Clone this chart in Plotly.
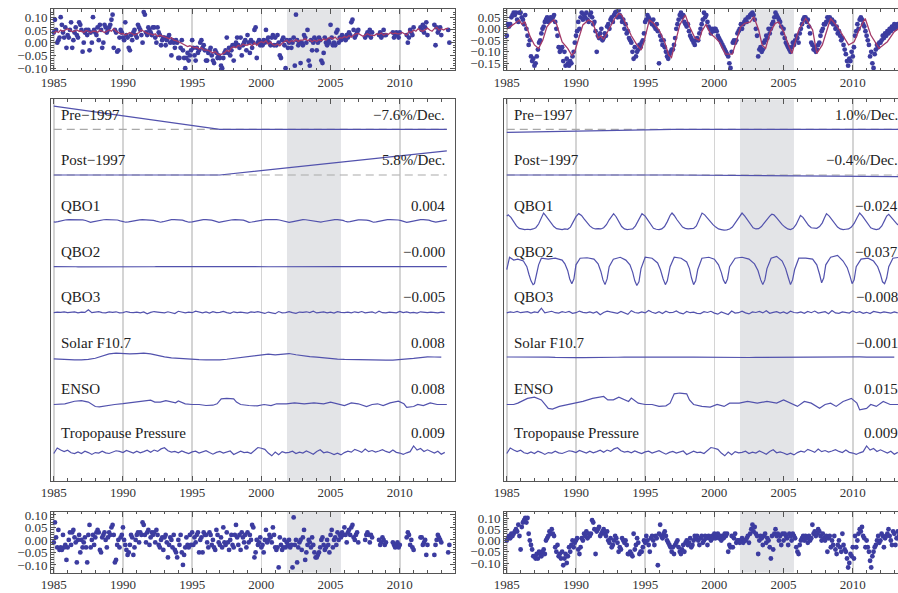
import plotly.graph_objects as go

W, H = 898, 593
FONT = "Liberation Serif, Times New Roman, serif"
YEARS = list(range(1985, 2014))

# ---------------- top-left: ozone anomaly (monthly rows per year) ----------------
TL_ROWS = [
    [0.04, 0.09, 0.05, 0.00, 0.01, 0.02, 0.10, 0.07, 0.04, 0.02, 0.06, -0.02],
    [0.03, 0.02, 0.05, 0.08, -0.02, 0.01, 0.04, 0.06, 0.03, 0.02, 0.08, 0.07],
    [0.05, -0.035, 0.00, 0.04, 0.05, 0.03, 0.05, -0.03, 0.04, 0.00, 0.10, 0.05],
    [0.04, 0.03, 0.06, 0.01, 0.07, 0.05, -0.02, 0.00, 0.07, 0.06, 0.04, 0.05],
    [0.06, 0.07, 0.09, 0.11, -0.02, 0.05, 0.04, -0.035, -0.03, 0.02, 0.05, 0.04],
    [0.02, 0.01, 0.08, 0.03, 0.02, -0.02, -0.03, 0.03, 0.01, 0.04, 0.05, 0.03],
    [0.02, 0.07, 0.06, 0.05, 0.03, 0.00, 0.12, 0.11, 0.04, 0.03, 0.06, 0.05],
    [0.04, 0.03, 0.06, 0.06, 0.02, 0.00, 0.06, 0.04, 0.03, -0.01, 0.01, 0.02],
    [0.02, -0.01, 0.01, 0.02, 0.03, 0.00, -0.05, 0.01, 0.00, -0.02, 0.01, 0.00],
    [-0.06, -0.06, -0.02, 0.01, -0.03, -0.06, -0.10, -0.06, -0.04, -0.07, -0.05, -0.03],
    [0.01, -0.02, -0.05, -0.07, -0.02, -0.04, -0.03, 0.00, 0.01, -0.02, -0.01, -0.03],
    [-0.07, -0.07, -0.04, -0.03, -0.02, -0.05, -0.07, -0.08, -0.03, -0.04, -0.06, -0.05],
    [-0.06, -0.09, -0.10, -0.06, -0.04, -0.03, 0.02, -0.04, -0.02, -0.05, -0.03, -0.01],
    [-0.07, -0.01, 0.00, 0.02, -0.01, -0.02, 0.02, -0.05, -0.01, 0.00, 0.01, -0.03],
    [0.03, 0.00, -0.04, 0.01, -0.02, 0.00, 0.05, 0.06, -0.06, 0.00, 0.01, -0.01],
    [0.00, -0.01, 0.01, 0.00, 0.05, 0.01, 0.02, 0.00, -0.01, 0.02, 0.03, -0.01],
    [0.02, -0.01, 0.03, 0.00, -0.05, -0.06, 0.01, 0.02, -0.01, -0.10, 0.01, -0.02],
    [0.00, 0.01, -0.02, 0.00, 0.02, -0.09, 0.11, 0.01, -0.01, 0.00, -0.08, 0.00],
    [-0.01, 0.03, 0.02, 0.00, 0.05, -0.07, -0.09, 0.01, -0.03, 0.00, 0.02, 0.01],
    [-0.03, 0.00, 0.02, 0.01, -0.07, -0.08, -0.04, 0.02, 0.00, -0.01, 0.01, 0.00],
    [0.07, 0.02, -0.01, 0.00, -0.01, 0.04, 0.05, 0.00, 0.02, 0.01, 0.03, 0.02],
    [0.02, 0.01, 0.03, 0.02, 0.04, 0.03, 0.08, 0.09, 0.05, 0.02, 0.03, 0.04],
    [0.05, None, None, None, None, None, 0.02, 0.03, 0.04, 0.03, 0.05, 0.02],
    [0.04, None, None, None, None, None, 0.03, 0.04, 0.02, 0.03, 0.05, 0.03],
    [0.03, None, None, None, None, None, 0.04, 0.02, 0.03, 0.04, 0.03, 0.02],
    [0.04, None, None, None, None, None, 0.03, 0.00, 0.02, 0.05, 0.04, 0.03],
    [0.06, None, None, None, None, None, 0.06, 0.05, 0.07, 0.04, 0.06, 0.08],
    [0.03, None, None, None, None, None, 0.07, -0.01, 0.06, 0.04, 0.05, 0.06],
    [0.03, None, None, None, None, None, 0.05, 0.00],
]

# fitted model, left (two-monthly rows per year)
FIT_L_ROWS = [
    [0.036, 0.045, 0.040, 0.050, 0.045, 0.050],
    [0.055, 0.050, 0.043, 0.045, 0.050, 0.045],
    [0.045, 0.040, 0.048, 0.045, 0.040, 0.045],
    [0.045, 0.040, 0.050, 0.045, 0.040, 0.045],
    [0.050, 0.045, 0.055, 0.045, 0.040, 0.035],
    [0.036, 0.030, 0.035, 0.040, 0.035, 0.030],
    [0.035, 0.040, 0.050, 0.045, 0.040, 0.035],
    [0.035, 0.030, 0.035, 0.025, 0.030, 0.025],
    [0.023, 0.020, 0.015, 0.020, 0.010, 0.008],
    [0.005, 0.000, -0.005, -0.010, -0.015, -0.012],
    [-0.016, -0.020, -0.018, -0.025, -0.020, -0.028],
    [-0.029, -0.030, -0.035, -0.040, -0.035, -0.045],
    [-0.048, -0.045, -0.040, -0.030, -0.035, -0.020],
    [-0.016, -0.020, -0.010, -0.015, -0.005, -0.010],
    [-0.009, -0.005, -0.012, 0.000, -0.010, 0.000],
    [0.004, 0.000, 0.008, -0.005, 0.002, -0.008],
    [-0.010, -0.005, -0.012, -0.002, 0.005, 0.010],
    [0.000, 0.008, 0.005, 0.012, 0.005, 0.010],
    [0.010, 0.015, 0.008, 0.012, 0.004, 0.010],
    [0.005, 0.012, 0.008, 0.015, 0.010, 0.018],
    [0.020, 0.015, 0.022, 0.012, 0.020, 0.018],
    [0.024, 0.020, 0.028, 0.022, 0.030, 0.035],
    [0.036, 0.030, 0.025, 0.030, 0.035, 0.030],
    [0.030, 0.028, 0.035, 0.032, 0.038, 0.030],
    [0.036, 0.032, 0.040, 0.035, 0.038, 0.035],
    [0.036, 0.040, 0.035, 0.030, 0.045, 0.040],
    [0.050, 0.045, 0.055, 0.048, 0.045, 0.050],
    [0.057, 0.050, 0.045, 0.055, 0.060, 0.050],
    [0.055, 0.050, 0.055, 0.056],
]

# ---------------- bottom-left: residuals ----------------
BL_ROWS = [
    [-0.01, 0.07, 0.01, -0.03, 0.04, -0.04, -0.03, -0.04, 0.02, -0.03, -0.02, -0.08],
    [-0.03, 0.00, 0.03, -0.02, 0.03, 0.04, 0.01, -0.01, -0.09, 0.00, 0.02, -0.05],
    [0.00, -0.03, -0.01, 0.01, -0.03, -0.09, 0.02, 0.06, -0.03, 0.00, 0.02, -0.02],
    [0.01, 0.03, 0.04, 0.03, -0.04, -0.05, 0.01, 0.02, 0.03, 0.00, -0.03, 0.01],
    [0.03, 0.02, 0.05, 0.06, 0.02, -0.09, -0.08, -0.02, 0.00, -0.03, 0.01, 0.02],
    [0.05, 0.00, -0.02, -0.04, -0.06, -0.05, -0.02, 0.02, 0.01, -0.06, -0.03, 0.00],
    [0.02, 0.03, -0.01, 0.03, 0.02, 0.07, 0.06, 0.02, -0.01, 0.03, 0.04, -0.02],
    [0.01, 0.03, 0.02, 0.03, -0.01, 0.04, 0.02, -0.02, -0.03, 0.00, 0.01, -0.04],
    [0.01, 0.02, -0.01, -0.07, -0.02, 0.01, 0.00, -0.03, 0.02, -0.04, -0.05, -0.07],
    [0.00, -0.02, 0.02, -0.05, -0.10, -0.06, -0.03, 0.01, -0.02, -0.03, 0.02, -0.02],
    [0.03, -0.02, 0.01, -0.01, 0.02, 0.03, -0.05, 0.00, 0.01, -0.05, 0.03, 0.02],
    [0.02, -0.01, -0.03, 0.03, 0.02, -0.02, 0.00, -0.03, -0.04, 0.04, 0.02, -0.01],
    [-0.02, 0.01, -0.03, 0.05, -0.01, -0.02, 0.03, -0.01, -0.04, 0.00, 0.02, -0.02],
    [-0.03, 0.02, 0.06, 0.01, -0.02, 0.02, -0.04, 0.03, 0.01, -0.01, 0.02, -0.03],
    [0.03, -0.01, 0.02, 0.00, 0.06, 0.05, -0.07, -0.05, 0.00, -0.02, -0.01, 0.01],
    [-0.03, -0.02, -0.05, 0.00, 0.04, -0.01, 0.00, 0.02, 0.01, -0.01, 0.05, 0.02],
    [-0.03, -0.04, -0.03, -0.11, 0.01, -0.02, -0.04, -0.03, 0.00, -0.03, -0.01, -0.02],
    [0.00, -0.03, -0.02, -0.11, 0.09, -0.02, 0.00, -0.09, -0.03, -0.01, 0.00, -0.04],
    [0.01, 0.04, -0.08, -0.05, -0.02, 0.00, -0.01, -0.03, 0.01, -0.02, -0.05, -0.07],
    [-0.07, -0.06, -0.05, -0.03, 0.00, 0.01, -0.02, -0.04, -0.03, 0.00, -0.02, -0.05],
    [0.02, 0.04, -0.03, 0.00, 0.01, -0.02, 0.03, 0.00, 0.02, 0.01, 0.03, 0.02],
    [0.05, 0.02, -0.01, 0.03, 0.04, 0.02, 0.05, 0.06, 0.01, 0.00, 0.02, 0.03],
    [-0.01, None, None, None, None, None, 0.00, 0.02, 0.03, 0.02, -0.01, 0.02],
    [0.01, None, None, None, None, None, 0.00, -0.02, -0.01, 0.01, 0.00, -0.02],
    [-0.01, None, None, None, None, None, -0.01, -0.02, -0.03, -0.02, -0.01, -0.03],
    [-0.02, None, None, None, None, None, 0.01, 0.03, 0.02, -0.02, 0.00, -0.03],
    [-0.04, None, None, None, None, None, 0.01, 0.01, -0.02, -0.01, 0.00, -0.06],
    [-0.02, None, None, None, None, None, -0.06, -0.02, 0.00, 0.02, 0.01, 0.00],
    [-0.01, None, None, None, None, None, -0.05, -0.02],
]

# ---------------- top-right: ozone anomaly ----------------
TR_ROWS = [
    [-0.03, 0.02, 0.01, 0.02, 0.05, 0.06, 0.07, 0.06, 0.07, 0.04, 0.03, 0.07],
    [0.07, 0.05, 0.04, 0.02, 0.06, 0.00, -0.03, -0.07, -0.05, -0.12, -0.14, -0.13],
    [-0.16, -0.15, -0.12, -0.09, -0.06, -0.05, -0.02, 0.00, 0.01, 0.03, 0.04, 0.05],
    [0.03, 0.04, 0.05, 0.04, 0.05, 0.06, 0.03, 0.00, -0.03, -0.08, -0.10, -0.09],
    [-0.08, -0.14, -0.10, -0.16, -0.13, -0.15, -0.16, -0.14, -0.15, -0.12, -0.10, -0.06],
    [-0.03, -0.01, 0.03, 0.00, 0.05, 0.07, 0.04, 0.06, 0.05, 0.07, 0.04, 0.03],
    [0.06, 0.07, 0.05, 0.02, 0.03, -0.01, -0.10, -0.03, -0.04, -0.02, 0.00, -0.05],
    [-0.04, -0.02, -0.03, 0.01, 0.02, 0.00, 0.04, 0.05, 0.03, 0.06, 0.07, 0.075],
    [0.05, 0.08, 0.06, 0.05, 0.03, 0.04, 0.00, 0.02, -0.02, -0.01, -0.04, -0.05],
    [-0.06, -0.10, -0.13, -0.08, -0.12, -0.10, -0.09, -0.07, -0.08, -0.06, -0.05, -0.02],
    [0.03, 0.04, 0.06, 0.05, 0.04, 0.03, 0.02, 0.04, 0.01, 0.00, 0.02, -0.01],
    [-0.15, -0.03, -0.05, -0.07, -0.05, -0.08, -0.10, -0.12, -0.13, -0.11, -0.10, -0.09],
    [-0.09, -0.07, -0.04, 0.00, 0.02, 0.04, 0.06, 0.07, 0.05, 0.06, 0.03, 0.02],
    [0.01, 0.02, -0.01, -0.03, -0.04, -0.05, -0.06, -0.07, -0.05, -0.04, -0.05, -0.02],
    [0.00, 0.02, 0.04, 0.07, 0.05, 0.06, 0.03, 0.01, 0.00, -0.02, 0.00, -0.01],
    [0.00, 0.00, -0.01, -0.03, -0.04, -0.05, -0.06, -0.07, -0.08, -0.09, -0.10, -0.11],
    [-0.12, -0.15, -0.17, -0.10, -0.06, -0.05, -0.06, -0.05, -0.02, -0.01, 0.00, 0.02],
    [0.00, 0.02, 0.03, 0.04, 0.03, 0.05, 0.05, 0.06, 0.065, 0.07, 0.06, 0.04],
    [0.00, -0.03, -0.12, -0.09, -0.08, -0.10, -0.09, -0.06, -0.05, -0.03, -0.04, 0.00],
    [-0.02, 0.00, 0.02, 0.03, 0.05, 0.07, 0.06, 0.05, 0.04, 0.03, 0.01, -0.02],
    [0.00, -0.04, -0.06, -0.07, -0.08, -0.09, -0.10, -0.08, -0.06, -0.07, -0.05, -0.03],
    [-0.04, -0.06, -0.02, 0.00, 0.02, 0.04, 0.05, 0.05, 0.03, 0.04, 0.01, -0.02],
    [-0.06, -0.07, -0.09, -0.08, -0.10, -0.09, -0.07, -0.06, -0.03, -0.01, 0.00, 0.02],
    [0.02, 0.03, 0.05, 0.04, 0.05, 0.03, 0.04, 0.02, 0.03, 0.00, 0.01, -0.02],
    [-0.01, -0.03, -0.05, -0.04, -0.07, -0.09, -0.11, -0.14, -0.16, -0.13, -0.14, -0.10],
    [-0.12, -0.08, -0.03, -0.01, 0.02, 0.00, 0.04, 0.05, 0.04, 0.02, 0.01, -0.01],
    [-0.03, -0.05, -0.07, -0.12, -0.10, -0.15, -0.17, -0.11, -0.09, -0.07, -0.08, -0.06],
    [-0.06, -0.05, -0.03, -0.04, -0.02, -0.03, -0.01, -0.02, 0.00, -0.01, 0.01, 0.00],
    [0.02, 0.00, 0.01, 0.02],
]

# fitted model, right (time, value)
FIT_R_T = [1985.0, 1985.3, 1985.6, 1985.9, 1986.1, 1986.3, 1986.7, 1987.0, 1987.3, 1987.6,
           1987.9, 1988.1, 1988.4, 1988.6, 1988.8, 1989.0, 1989.4, 1989.7, 1989.9, 1990.2,
           1990.5, 1990.9, 1991.2, 1991.6, 1991.8, 1992.0, 1992.4, 1992.8, 1993.1, 1993.3,
           1993.7, 1994.0, 1994.4, 1994.7, 1994.9, 1995.3, 1995.6, 1996.0, 1996.4, 1996.7,
           1996.9, 1997.1, 1997.5, 1997.9, 1998.2, 1998.6, 1998.9, 1999.1, 1999.4, 1999.7,
           2000.0, 2000.4, 2000.8, 2001.3, 2001.5, 2001.9, 2002.2, 2002.6, 2002.85, 2003.2,
           2003.45, 2003.7, 2004.05, 2004.4, 2004.65, 2005.0, 2005.4, 2005.6, 2006.1, 2006.6,
           2007.1, 2007.4, 2007.8, 2008.4, 2008.9, 2009.2, 2009.7, 2010.1, 2010.5, 2010.9,
           2011.3, 2011.9, 2012.5, 2013.0, 2013.3]
FIT_R_V = [-0.002, 0.010, 0.024, 0.038, 0.020, 0.030, -0.035, -0.070, -0.085, -0.050,
           0.009, 0.024, 0.040, 0.020, -0.020, -0.057, -0.085, -0.115, -0.100, -0.040,
           0.017, 0.038, 0.030, -0.040, -0.030, -0.045, 0.002, 0.045, 0.067, 0.060,
           0.009, -0.030, -0.070, -0.092, -0.060, 0.038, 0.025, -0.005, -0.056, -0.114,
           -0.125, -0.080, 0.017, 0.060, 0.010, -0.040, -0.050, -0.010, 0.020, -0.020,
           -0.035, -0.060, -0.110, -0.110, -0.070, 0.009, 0.024, 0.030, 0.053, -0.005,
           -0.070, -0.085, -0.012, 0.024, 0.030, -0.012, -0.078, -0.107, -0.005, 0.045,
           -0.005, -0.107, -0.070, 0.045, 0.009, -0.020, -0.070, -0.056, 0.001, 0.045,
           -0.027, -0.085, -0.056, -0.012, 0.001]

# ---------------- bottom-right: residuals ----------------
BR_ROWS = [
    [0.00, 0.01, 0.02, 0.01, 0.03, 0.02, 0.03, 0.04, 0.05, 0.04, 0.07, 0.02],
    [-0.04, 0.06, 0.08, 0.09, 0.10, 0.08, 0.10, 0.03, 0.00, -0.02, -0.04, -0.07],
    [-0.07, -0.08, -0.06, -0.08, -0.05, -0.06, -0.07, -0.05, -0.04, -0.06, 0.00, 0.01],
    [0.02, 0.04, 0.03, 0.05, 0.03, 0.02, -0.03, -0.05, -0.02, -0.07, -0.06, -0.08],
    [-0.05, -0.11, -0.08, -0.06, -0.10, -0.07, -0.03, -0.05, -0.02, 0.00, -0.03, -0.01],
    [0.00, 0.01, -0.04, -0.06, -0.03, 0.01, 0.00, 0.03, 0.02, 0.04, 0.01, 0.03],
    [0.02, 0.03, 0.09, 0.08, 0.05, -0.06, 0.04, 0.05, 0.06, 0.02, 0.03, 0.04],
    [0.05, 0.03, 0.02, 0.04, 0.00, -0.01, 0.01, -0.03, -0.02, 0.00, 0.02, 0.01],
    [-0.01, -0.05, -0.03, -0.04, 0.01, 0.00, -0.01, 0.00, -0.02, -0.06, -0.06, -0.05],
    [-0.06, -0.07, 0.03, -0.04, -0.02, 0.01, -0.01, -0.06, -0.05, -0.05, -0.03, 0.00],
    [-0.01, 0.02, 0.00, -0.02, -0.05, 0.01, 0.02, 0.00, -0.02, 0.02, 0.01, -0.11],
    [0.03, 0.07, 0.02, 0.01, 0.03, 0.04, 0.02, 0.00, -0.01, -0.02, -0.03, -0.05],
    [-0.03, -0.06, -0.02, -0.01, 0.00, -0.03, -0.05, -0.06, -0.04, -0.02, -0.05, -0.01],
    [0.00, -0.02, -0.01, 0.01, -0.03, -0.02, 0.00, 0.02, 0.01, 0.02, 0.00, -0.02],
    [0.01, 0.02, -0.01, 0.00, 0.02, 0.01, -0.02, 0.02, 0.01, 0.00, 0.02, 0.01],
    [0.03, 0.01, 0.02, 0.03, 0.01, 0.02, 0.00, 0.02, 0.01, 0.03, 0.02, 0.03],
    [-0.05, -0.02, -0.03, 0.02, -0.03, 0.01, 0.03, -0.01, 0.00, 0.00, -0.01, 0.00],
    [0.01, -0.01, 0.00, 0.00, 0.01, 0.02, -0.01, 0.03, 0.05, 0.07, 0.04, 0.06],
    [0.03, 0.02, -0.06, 0.00, 0.02, 0.01, -0.02, 0.02, 0.03, -0.01, 0.01, 0.00],
    [-0.03, -0.08, 0.02, -0.04, 0.03, 0.05, 0.02, 0.03, 0.00, 0.02, -0.02, 0.03],
    [0.00, 0.03, 0.02, 0.01, -0.02, 0.03, 0.02, 0.00, 0.03, 0.02, 0.01, -0.03],
    [-0.05, -0.06, -0.02, 0.00, 0.01, 0.02, 0.00, 0.02, 0.01, -0.01, 0.02, 0.00],
    [0.01, 0.07, 0.03, 0.04, 0.02, 0.03, 0.05, 0.04, 0.02, 0.00, 0.03, 0.01],
    [0.00, 0.02, -0.05, 0.01, 0.02, -0.03, 0.00, -0.02, 0.02, -0.04, -0.06, -0.02],
    [0.00, -0.03, -0.05, 0.03, -0.02, -0.04, -0.05, -0.08, -0.12, -0.10, -0.06, -0.07],
    [-0.03, -0.08, 0.02, -0.03, 0.00, 0.03, 0.05, 0.04, 0.06, 0.02, 0.01, -0.03],
    [0.00, -0.03, -0.05, -0.09, -0.12, -0.07, -0.05, -0.03, -0.02, 0.00, 0.02, -0.01],
    [0.00, 0.03, 0.02, -0.03, 0.01, 0.02, 0.03, 0.05, 0.02, 0.00, -0.02, 0.04],
    [0.03, -0.02, 0.01, 0.04, 0.02, 0.00, 0.01],
]

# ---------------- regression components ----------------
TREND_T = [1985.0, 1997.0, 2013.4]
PRE_L = [0.091, 0.0, 0.0]
POST_L = [0.0, 0.0, 0.095]
PRE_R = [-0.012, 0.0, 0.0]
POST_R = [0.0, 0.0, -0.0066]
RATE_L = ["−7.6%/Dec.", "5.8%/Dec."]
RATE_R = ["1.0%/Dec.", "−0.4%/Dec."]

NAMES = ["Pre−1997", "Post−1997", "QBO1", "QBO2", "QBO3", "Solar F10.7", "ENSO",
         "Tropopause Pressure"]
COEF_L = [0.004, -0.0002, -0.005, 0.008, 0.008, 0.009]
COEF_R = [-0.024, -0.037, -0.008, -0.001, 0.015, 0.009]

QBO1_T = [1985.0, 1985.1, 1985.3, 1985.5, 1985.7, 1985.9, 1986.1, 1986.3, 1986.5, 1986.7,
          1986.9, 1987.1, 1987.3, 1987.5, 1987.66, 1987.8, 1988.0, 1988.2, 1988.4, 1988.6,
          1988.8, 1989.0, 1989.2, 1989.4, 1989.6, 1989.8, 1990.0, 1990.2, 1990.4, 1990.6,
          1990.8, 1991.0, 1991.2, 1991.4, 1991.6, 1991.8, 1992.0, 1992.2, 1992.4, 1992.6,
          1992.72, 1992.9, 1993.1, 1993.3, 1993.5, 1993.7, 1993.9, 1994.1, 1994.3, 1994.5,
          1994.77, 1995.0, 1995.2, 1995.4, 1995.6, 1995.8, 1996.0, 1996.2, 1996.4, 1996.6,
          1996.8, 1996.94, 1997.1, 1997.3, 1997.5, 1997.7, 1997.9, 1998.1, 1998.3, 1998.5,
          1998.7, 1998.9, 1999.11, 1999.3, 1999.5, 1999.7, 1999.9, 2000.1, 2000.3, 2000.5,
          2000.7, 2000.9, 2001.1, 2001.3, 2001.5, 2001.7, 2001.85, 2002.0, 2002.2, 2002.4,
          2002.6, 2002.8, 2003.0, 2003.2, 2003.4, 2003.6, 2003.8, 2004.0, 2004.15, 2004.3,
          2004.5, 2004.7, 2004.9, 2005.1, 2005.3, 2005.5, 2005.7, 2005.9, 2006.05, 2006.22,
          2006.4, 2006.6, 2006.8, 2007.0, 2007.2, 2007.4, 2007.6, 2007.8, 2007.95, 2008.1,
          2008.3, 2008.5, 2008.7, 2008.9, 2009.1, 2009.3, 2009.5, 2009.7, 2009.9, 2010.1,
          2010.3, 2010.5, 2010.7, 2010.9, 2011.1, 2011.3, 2011.5, 2011.7, 2011.9, 2012.1,
          2012.3, 2012.45, 2012.6, 2012.8, 2013.0, 2013.2, 2013.4]
QBO1_V = [-0.8, -1.0, -0.6, 0.1, 0.8, 1.2, 1.35, 1.4, 1.35, 1.4,
          1.3, 1.1, 0.5, -0.4, -1.3, -0.9, -0.3, 0.4, 0.9, 1.25,
          1.35, 1.4, 1.3, 1.35, 1.0, 0.2, -0.7, -1.2, -0.9, -0.3,
          0.3, 0.8, 1.15, 1.3, 1.25, 1.3, 1.1, 0.6, -0.2, -0.9,
          -1.2, -0.7, 0.2, 0.9, 1.3, 1.4, 1.35, 1.3, 0.8, -0.1,
          -1.2, -0.8, -0.1, 0.6, 1.2, 1.35, 1.4, 1.3, 0.9, 0.1,
          -0.9, -1.3, -0.9, -0.2, 0.5, 1.0, 1.2, 1.3, 1.25, 1.2,
          0.8, -0.1, -1.3, -1.0, -0.4, 0.2, 0.6, 1.0, 1.3, 1.4,
          1.5, 1.45, 1.3, 1.0, 0.3, -0.4, -1.0, -1.3, -0.8, -0.1,
          0.6, 1.1, 1.3, 1.25, 0.9, 0.3, -0.3, -0.8, -1.1, -1.0,
          -0.5, 0.1, 0.6, 1.0, 1.3, 1.4, 1.2, 0.6, -0.2, -0.9,
          -0.6, 0.1, 0.7, 1.1, 1.2, 1.2, 0.9, 0.3, -0.5, -1.2,
          -0.8, -0.2, 0.5, 1.0, 1.3, 1.4, 1.35, 1.3, 1.0, 0.4,
          -0.5, -1.3, -0.8, -0.1, 0.6, 1.1, 1.3, 1.4, 1.3, 0.8,
          -0.1, -0.8, -1.1, -0.6, 0.0, 0.5, 0.8]

QBO2_T = [1985.0, 1985.1, 1985.2, 1985.5, 1985.8, 1986.2, 1986.45, 1986.6, 1986.75, 1986.9,
          1987.0, 1987.15, 1987.3, 1987.5, 1988.0, 1988.5, 1989.0, 1989.2, 1989.4, 1989.55,
          1989.7, 1989.85, 1990.0, 1990.3, 1990.8, 1991.3, 1991.6, 1991.8, 1991.95, 1992.1,
          1992.25, 1992.4, 1992.7, 1993.2, 1993.6, 1993.9, 1994.1, 1994.25, 1994.4, 1994.55,
          1994.7, 1995.0, 1995.5, 1995.9, 1996.1, 1996.3, 1996.46, 1996.6, 1996.8, 1997.1,
          1997.6, 1998.0, 1998.2, 1998.35, 1998.5, 1998.65, 1998.8, 1999.1, 1999.6, 2000.0,
          2000.3, 2000.5, 2000.65, 2000.8, 2000.95, 2001.1, 2001.5, 2002.0, 2002.5, 2002.9,
          2003.15, 2003.35, 2003.5, 2003.65, 2003.8, 2004.1, 2004.5, 2004.9, 2005.15, 2005.35,
          2005.5, 2005.65, 2005.8, 2006.1, 2006.6, 2007.1, 2007.4, 2007.6, 2007.75, 2007.9,
          2008.05, 2008.4, 2008.9, 2009.3, 2009.6, 2009.8, 2009.95, 2010.1, 2010.25, 2010.6,
          2011.1, 2011.5, 2011.8, 2012.0, 2012.15, 2012.3, 2012.45, 2012.6, 2012.9, 2013.4]
QBO2_V = [0.3, -0.4, -1.0, -0.7, -0.8, -0.6, 0.0, 0.8, 1.5, 1.9,
          1.8, 0.8, -0.2, -0.9, -0.8, -0.9, -0.7, -0.3, 0.4, 1.3,
          1.8, 1.3, -0.2, -0.9, -0.95, -0.8, -0.3, 0.5, 1.4, 1.9,
          1.3, 0.0, -0.8, -1.0, -0.7, -0.2, 0.6, 1.5, 2.0, 1.6,
          0.2, -1.0, -0.9, -0.4, 0.3, 1.3, 1.9, 1.5, 0.0, -1.0,
          -0.9, -0.5, 0.2, 1.2, 1.9, 1.5, 0.3, -0.9, -1.0, -0.8,
          -0.2, 0.6, 1.4, 1.8, 1.3, 0.0, -0.9, -1.0, -0.8, -0.3,
          0.4, 1.4, 1.9, 1.4, 0.2, -0.9, -1.1, -0.6, 0.2, 1.2,
          1.9, 1.4, 0.3, -0.9, -0.9, -0.8, -0.2, 0.8, 1.7, 1.2,
          -0.2, -1.0, -1.2, -0.6, 0.1, 1.0, 1.8, 1.4, 0.0, -0.8,
          -0.9, -0.6, 0.0, 0.8, 1.6, 1.8, 1.2, 0.0, -0.9, -1.0]

# quarterly index rows
QBO3_ROWS = [
    [0.3, -0.2, 0.1, -0.4], [0.2, 0.0, -0.3, 0.4], [-0.2, 0.1, -2.0, 0.3],
    [0.0, -0.5, 0.2, 0.4], [-0.3, 0.1, -0.4, 0.5], [0.2, -0.6, 0.0, 0.3],
    [-0.2, 0.4, -0.3, 1.2], [0.1, -0.6, -0.2, 0.3], [0.5, -0.4, 0.2, 1.0],
    [-0.8, 0.1, 0.4, -0.2], [0.3, -0.9, 0.0, 0.5], [-0.3, 0.6, -0.5, 0.2],
    [0.1, -0.7, 0.3, 0.8], [-0.4, 0.2, -0.1, 0.5], [0.6, -0.3, 0.1, -0.5],
    [0.4, 0.9, -0.2, 0.3], [1.1, -0.6, 0.4, 0.2], [-0.5, 0.3, 0.8, -0.2],
    [0.1, -0.4, 0.3, -0.8], [0.5, 0.0, -0.3, 0.4], [-0.2, 0.6, -0.5, 0.1],
    [0.3, -0.2, 0.5, -0.4], [0.2, -0.6, 0.4, 0.0], [-0.3, 0.7, -0.9, 0.3],
    [0.5, -0.2, 0.1, 0.4], [-0.7, 0.2, -0.3, 0.5], [0.0, 0.6, -0.4, -0.1],
    [0.3, -0.2, 0.1, 0.4], [-0.2, 0.3],
]

SOLAR_ROWS = [  # half-yearly
    [-0.8, -1.1], [-1.3, -1.35], [-1.3, -1.1], [-0.5, 0.6], [1.6, 2.0], [1.7, 1.6],
    [1.8, 2.0], [1.6, 0.8], [0.2, -0.3], [-0.6, -0.9], [-1.0, -1.2], [-1.3, -1.35],
    [-1.3, -1.0], [-0.6, -0.1], [0.4, 0.9], [1.3, 1.5], [1.1, 1.3], [1.8, 1.2],
    [0.6, 0.3], [0.0, -0.4], [-0.6, -0.9], [-1.1, -1.2], [-1.3, -1.35], [-1.4, -1.4],
    [-1.45, -1.4], [-1.2, -1.0], [-0.6, -0.2], [0.2, 0.1], [0.0],
]

ENSO_T = [1985.0, 1985.5, 1985.8, 1986.5, 1987.0, 1987.5, 1988.0, 1988.3, 1988.8, 1989.4,
          1990.0, 1990.5, 1991.2, 1992.0, 1992.3, 1992.7, 1993.1, 1993.5, 1993.8, 1994.0,
          1994.5, 1995.0, 1995.5, 1996.0, 1996.5, 1996.8, 1997.1, 1997.5, 1998.0, 1998.2,
          1998.5, 1999.1, 1999.7, 2000.2, 2000.7, 2001.1, 2001.8, 2002.4, 2003.1, 2003.8,
          2004.5, 2005.0, 2005.5, 2006.0, 2006.5, 2007.0, 2007.6, 2008.0, 2008.4, 2008.8,
          2009.3, 2009.9, 2010.3, 2010.5, 2011.0, 2011.3, 2011.7, 2012.2, 2012.7, 2013.4]
ENSO_V = [0.0, 0.0, 0.35, 1.6, 1.9, 1.2, -1.0, -1.2, -0.5, 0.0,
          0.4, 0.8, 1.6, 2.1, 1.2, 1.2, 1.9, 1.2, 0.8, 1.7,
          0.35, 0.0, 0.0, -0.5, -0.35, 0.35, 2.8, 3.0, 2.8, 1.2,
          0.0, -0.5, -0.7, 0.0, -0.5, 0.35, 0.35, 0.8, 0.35, 0.8,
          0.35, 1.2, 0.35, -0.5, 0.8, 0.35, -1.0, 0.0, 0.35, -0.5,
          0.8, 1.6, 0.35, -1.4, -1.0, 0.0, -0.5, 0.8, 0.0, 0.0]

TROPO_ROWS = [  # quarterly
    [0.0, 2.4, 1.5, 0.8], [1.4, 0.3, 0.0, 0.7], [0.0, 1.0, 0.4, -0.4], [0.4, 0.2, 1.0, 0.3],
    [0.0, 0.6, 1.2, 0.9], [0.4, 1.3, 0.7, 0.2], [1.0, 0.3, 0.8, 1.4], [0.5, 1.5, 0.9, 2.0],
    [2.5, 1.2, 0.6, 0.9], [0.3, 1.1, 0.5, 0.0], [0.7, 1.0, 0.2, 0.6], [1.2, 0.4, -0.3, 0.5],
    [0.9, 0.2, 0.6, 1.1], [-0.4, 0.3, 1.0, 0.4], [0.6, 0.0, 1.4, 2.6], [2.3, 1.8, 0.2, -1.0],
    [0.6, -0.5, 0.8, 0.3], [0.5, 1.0, 0.0, 0.6], [0.2, 1.1, 0.4, -0.3], [0.9, 1.6, 0.3, 0.7],
    [0.2, -0.5, 0.1, -0.6], [0.4, 1.0, 0.6, 1.8], [1.2, 0.5, 1.9, 0.8], [1.3, 0.6, 1.1, 1.7],
    [0.9, 0.4, 1.5, 0.5], [0.2, -0.4, 0.3, 0.8], [3.3, 1.5, 2.2, 0.9], [1.6, 0.8, 0.2, 1.0],
    [-0.3, 0.5],
]

EVENT = (2001.85, 2005.75)

# ---------------- helpers ----------------
def flatten(rows, per_year):
    xs, ys = [], []
    for yr, row in zip(YEARS, rows):
        for k, v in enumerate(row):
            xs.append(yr + k / per_year)
            ys.append(v)
    return xs, ys

TLx, TLy = flatten(TL_ROWS, 12)
BLx, BLy = flatten(BL_ROWS, 12)
TRx, TRy = flatten(TR_ROWS, 12)
BRx, BRy = flatten(BR_ROWS, 12)
FLx, FLy = flatten(FIT_L_ROWS, 6)
Q3x, Q3y = flatten(QBO3_ROWS, 4)
SOx, SOy = flatten(SOLAR_ROWS, 2)
TPx, TPy = flatten(TROPO_ROWS, 4)

INDICES = [(QBO1_T, QBO1_V), (QBO2_T, QBO2_V), (Q3x, Q3y), (SOx, SOy), (ENSO_T, ENSO_V), (TPx, TPy)]

# layout geometry (pixels)
MID_TOP, MID_BOT, PX_PER_UNIT = 99.3, 480.7, 255.0
ROW_PX = [129.3, 175.0, 221.0, 266.7, 312.3, 357.2, 404.5, 453.5]
LABEL_PX = [115.0, 160.0, 205.5, 251.5, 297.3, 343.3, 389.0, 433.3]

def mid_y(py):
    return (MID_BOT - py) / PX_PER_UNIT

DOT = "#3c3ca0"
FITC = "#a33a68"
LINEC = "#5252ad"
DASHC = "#a9a9a9"
SHADE = "#e3e4e7"

YR_TOP_L = [-0.107, 0.131]
YR_TOP_R = [-0.179, 0.085]
YR_BOT_L = [-0.131, 0.113]
YR_BOT_R = [-0.143, 0.128]
YR_MID = [0, mid_y(MID_TOP)]

fig = go.Figure()

# shaded event window (drawn first so it sits above gridlines, below data)
for xa, ya, yr in [("x", "y", YR_TOP_L), ("x2", "y2", YR_MID), ("x3", "y3", YR_BOT_L),
                   ("x4", "y4", YR_TOP_R), ("x5", "y5", YR_MID), ("x6", "y6", YR_BOT_R)]:
    fig.add_trace(go.Scatter(x=[EVENT[0], EVENT[1], EVENT[1], EVENT[0], EVENT[0]],
                             y=[yr[0], yr[0], yr[1], yr[1], yr[0]], mode="lines", fill="toself",
                             fillcolor=SHADE, line=dict(width=0, color=SHADE), xaxis=xa, yaxis=ya,
                             hoverinfo="skip"))

def dots(x, y, xa, ya):
    fig.add_trace(go.Scatter(x=x, y=y, mode="markers", xaxis=xa, yaxis=ya,
                             marker=dict(size=4.8, color=DOT), hoverinfo="skip"))

def line(x, y, xa, ya, color, width=1.2, dash=None):
    fig.add_trace(go.Scatter(x=x, y=y, mode="lines", xaxis=xa, yaxis=ya,
                             line=dict(color=color, width=width, dash=dash), hoverinfo="skip"))

dots(TLx, TLy, "x", "y")
line(FLx, FLy, "x", "y", FITC, 1.3)
dots(TRx, TRy, "x4", "y4")
line(FIT_R_T, FIT_R_V, "x4", "y4", FITC, 1.3)
dots(BLx, BLy, "x3", "y3")
dots(BRx, BRy, "x6", "y6")

for xa, ya, pre, post, coefs in [("x2", "y2", PRE_L, POST_L, COEF_L), ("x5", "y5", PRE_R, POST_R, COEF_R)]:
    for i, comp in enumerate([pre, post]):
        b = mid_y(ROW_PX[i])
        line([TREND_T[0], TREND_T[-1]], [b, b], xa, ya, DASHC, 1.2, "8px,5px")
        line(TREND_T, [b + v for v in comp], xa, ya, LINEC, 1.2)
    for j, ((tx, tv), c) in enumerate(zip(INDICES, coefs)):
        b = mid_y(ROW_PX[j + 2])
        line(tx, [b + c * v for v in tv], xa, ya, LINEC, 1.2)

# ---------------- axes ----------------
LX = [51 / W, 455 / W]
RX = [504 / W, 1.0]
LXR = [1984.8, 1984.8 + 404 / 13.84]
RXR = [1984.8, 1984.8 + 394 / 13.84]
TOPD = [1 - 70 / H, 1 - 9.3 / H]
MIDD = [1 - MID_BOT / H, 1 - MID_TOP / H]
BOTD = [1 - 572.7 / H, 1 - 511.7 / H]
AX = "#555555"
TF = dict(family=FONT, size=13, color="#333333")

def xaxis(domain, rng, anchor):
    return dict(domain=domain, range=rng, anchor=anchor, tickmode="linear", tick0=1985, dtick=5,
                ticks="inside", ticklen=5, tickcolor=AX, tickwidth=1, showline=True, linecolor=AX,
                linewidth=1, mirror="ticks", showgrid=True, gridcolor="#d4d4d4", gridwidth=1.5,
                zeroline=False, tickfont=TF, automargin=False,
                minor=dict(ticks="inside", ticklen=2.5, dtick=1, tick0=1985, tickcolor=AX, showgrid=False))

def yaxis(domain, rng, anchor, mirror, vals):
    return dict(domain=domain, range=rng, anchor=anchor, tickmode="array", tickvals=vals,
                tickformat=".2f", ticks="inside", ticklen=5, tickcolor=AX, showline=True,
                linecolor=AX, linewidth=1, mirror="ticks" if mirror else False, showgrid=False,
                zeroline=False, tickfont=TF, automargin=False,
                minor=dict(ticks="inside", ticklen=2.5, dtick=0.01, tick0=0, tickcolor=AX))

def ymid(mirror, anchor):
    return dict(domain=MIDD, range=YR_MID, anchor=anchor, showticklabels=False, ticks="",
                showline=True, linecolor=AX, linewidth=1, mirror=mirror, showgrid=False,
                zeroline=False, automargin=False)

V5 = [-0.10, -0.05, 0.0, 0.05, 0.10]
V5R = [-0.15, -0.10, -0.05, 0.0, 0.05]

fig.update_layout(
    width=W, height=H, margin=dict(l=0, r=0, t=0, b=0, pad=0, autoexpand=False),
    paper_bgcolor="white", plot_bgcolor="white", showlegend=False,
    font=dict(family=FONT, color="#222222"),
    xaxis=xaxis(LX, LXR, "y"), yaxis=yaxis(TOPD, YR_TOP_L, "x", True, V5),
    xaxis2=xaxis(LX, LXR, "y2"), yaxis2=ymid(True, "x2"),
    xaxis3=xaxis(LX, LXR, "y3"), yaxis3=yaxis(BOTD, YR_BOT_L, "x3", True, V5),
    xaxis4=xaxis(RX, RXR, "y4"), yaxis4=yaxis(TOPD, YR_TOP_R, "x4", False, V5R),
    xaxis5=xaxis(RX, RXR, "y5"), yaxis5=ymid(False, "x5"),
    xaxis6=xaxis(RX, RXR, "y6"), yaxis6=yaxis(BOTD, YR_BOT_R, "x6", False, V5),
)

# labels in middle panels
ann = []
LF = dict(family=FONT, size=15, color="#222222")
for xl, xr, yref, coefs, rates in [
        (59 / W, 446.7 / W, "y2", COEF_L, RATE_L),
        (512.3 / W, 899.5 / W, "y5", COEF_R, RATE_R)]:
    vals = rates + [f"{c:.3f}".replace("-", "−") for c in coefs]
    for name, val, lp in zip(NAMES, vals, LABEL_PX):
        ann.append(dict(xref="paper", yref=yref, x=xl, y=mid_y(lp), text=name, showarrow=False,
                        xanchor="left", yanchor="middle", font=LF))
        ann.append(dict(xref="paper", yref=yref, x=xr, y=mid_y(lp), text=val, showarrow=False,
                        xanchor="right", yanchor="middle", font=LF))
fig.update_layout(annotations=ann)

fig.write_html("out.html", config={"displayModeBar": False, "staticPlot": True},
               post_script="document.body.style.margin='0';document.body.style.overflow='hidden';")
